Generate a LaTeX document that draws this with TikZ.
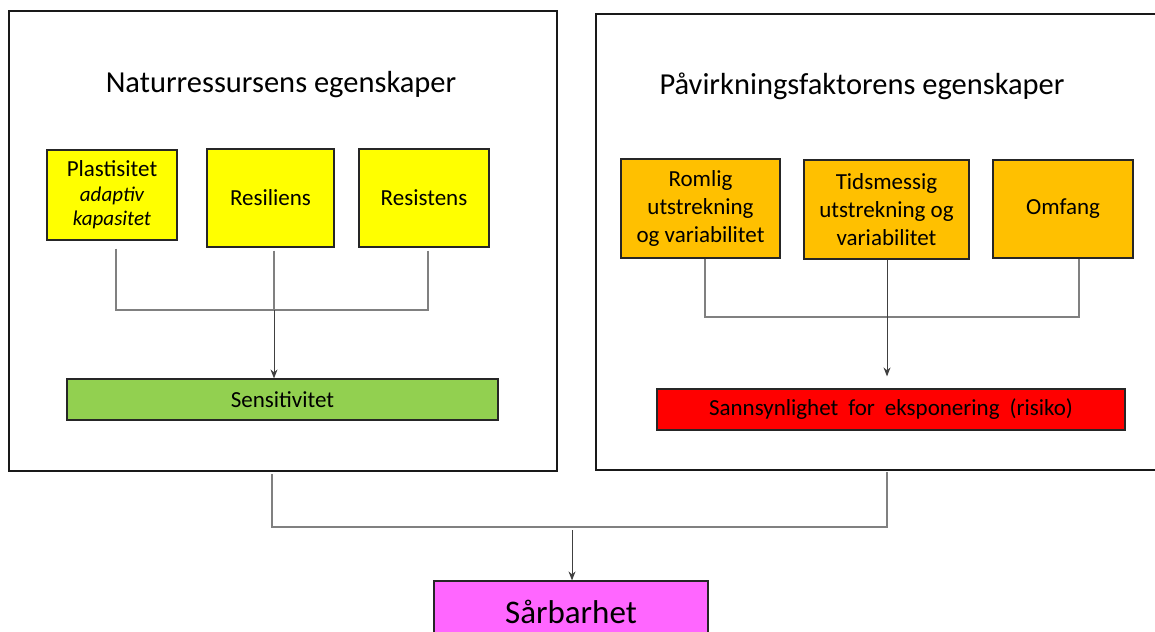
\documentclass[tikz,border=0pt]{standalone}
\usepackage{fontspec}
\setmainfont{Carlito}
\usetikzlibrary{arrows.meta}
\definecolor{cyel}{HTML}{FFFF00}
\definecolor{corg}{HTML}{FFC000}
\definecolor{cgrn}{HTML}{92D050}
\definecolor{cred}{HTML}{FF0000}
\definecolor{cmag}{HTML}{FF66FF}
\tikzset{
  box/.style={draw=black!85, line width=1.2pt, inner sep=0pt, align=center,
    font=\fontsize{23}{28}\selectfont},
  bigbox/.style={draw=black!90, line width=2pt, inner sep=0pt},
  title/.style={inner sep=0pt, font=\fontsize{30.5}{36}\selectfont},
  conn/.style={draw=black!50, line width=1.3pt},
  arr/.style={draw=black!75, line width=1pt, -{Stealth[length=9pt,width=7pt]}}
}
\begin{document}
\begin{tikzpicture}[x=1pt,y=-1pt]
\useasboundingbox (0,0) rectangle (1155,631);
\clip (0,0) rectangle (1155,631);
% big frames
\node[bigbox, minimum width=548pt, minimum height=460pt] (leftbox) at (283,241) {};
\node[bigbox, minimum width=579pt, minimum height=456pt] (rightbox) at (885.5,242) {};
% titles
\node[title] (tl) at (281,85) {Naturressursens egenskaper};
\node[title] (tr) at (862,86) {Påvirkningsfaktorens egenskaper};
% left boxes
\node[box, fill=cyel, minimum width=130pt, minimum height=90pt] (plast) at (112,195)
  {Plastisitet\\[-3pt]{\fontsize{21}{25}\selectfont\itshape adaptiv}\\[-4pt]{\fontsize{21}{25}\selectfont\itshape kapasitet}};
\node[box, fill=cyel, minimum width=127pt, minimum height=98pt] (resil) at (270.5,198) {Resiliens};
\node[box, fill=cyel, minimum width=130pt, minimum height=98pt] (resist) at (424,198) {Resistens};
\node[box, fill=cgrn, minimum width=431pt, minimum height=41pt] (sens) at (282.5,399.5) {Sensitivitet};
% right boxes
\node[box, fill=corg, minimum width=159pt, minimum height=99pt] (romlig) at (700.5,208.5)
  {Romlig\\utstrekning\\og variabilitet};
\node[box, fill=corg, minimum width=165pt, minimum height=99pt] (tids) at (886.5,209.5)
  {Tidsmessig\\utstrekning og\\variabilitet};
\node[box, fill=corg, minimum width=140pt, minimum height=98pt] (omfang) at (1063,209) {Omfang};
\node[box, fill=cred, minimum width=468pt, minimum height=41pt] (sann) at (891,409.5)
  {Sannsynlighet\hspace{10pt}for\hspace{10pt}eksponering\hspace{10pt}(risiko)};
% bottom box
\node[box, fill=cmag, minimum width=274pt, minimum height=62pt,
  font=\fontsize{33}{40}\selectfont] (sar) at (571,612) {Sårbarhet};
% left connectors
\coordinate (jL) at (274,310);
\draw[conn] (plast.south) ++(4,8) |- (jL);
\draw[conn] (resist.south) ++(4,3) |- (jL);
\draw[conn] (resil.south) ++(3.5,3) -- (jL);
\draw[arr] (jL) -- (sens.north -| jL);
% right connectors
\coordinate (jR) at (887,317);
\draw[conn] (romlig.south) ++(4.5,0) |- (jR);
\draw[conn] (omfang.south) ++(16,0) |- (jR);
\draw[arr] (tids.south) ++(0.5,0) -- ([yshift=12pt]sann.north -| jR);
% bottom connectors
\coordinate (jB) at (572,527);
\draw[conn] (leftbox.south) ++(-11,2) |- (jB);
\draw[conn] (rightbox.south) ++(1.5,1) |- (jB);
\draw[arr] (jB) ++(0,3) -- (sar.north -| jB);
\end{tikzpicture}
\end{document}
